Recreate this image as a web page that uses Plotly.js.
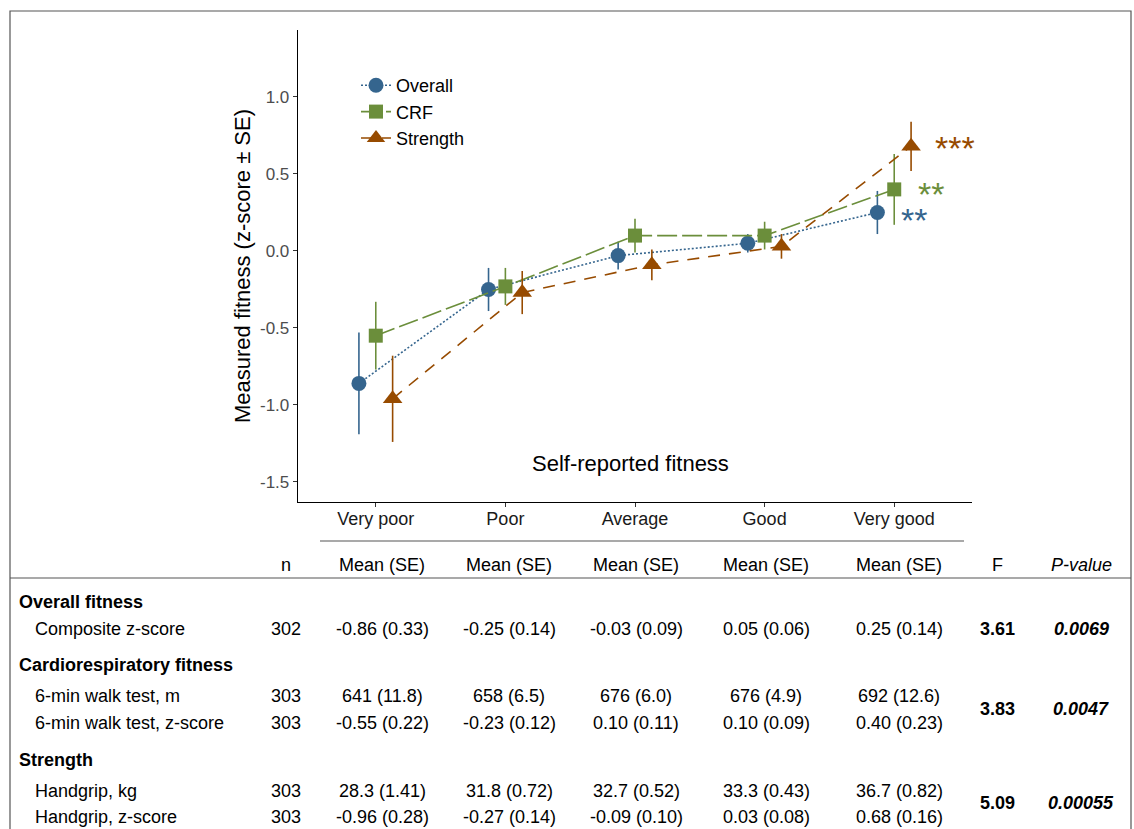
<!DOCTYPE html>
<html>
<head>
<meta charset="utf-8">
<script src="https://cdn.plot.ly/plotly-3.0.1.min.js"></script>
<style>html,body{margin:0;padding:0;background:#fff;}#chart{width:1134px;height:829px;}</style>
</head>
<body>
<div id="chart"></div>
<script>
// ---------------- data ----------------
const categories = ["Very poor", "Poor", "Average", "Good", "Very good"];
const seriesNames = ["Overall", "CRF", "Strength"];
const overallMean = [-0.86, -0.25, -0.03, 0.05, 0.25];
const overallSE   = [0.33, 0.14, 0.09, 0.06, 0.14];
const crfMean     = [-0.55, -0.23, 0.10, 0.10, 0.40];
const crfSE       = [0.22, 0.12, 0.11, 0.09, 0.23];
const strengthMean = [-0.96, -0.27, -0.09, 0.03, 0.68];
const strengthSE   = [0.28, 0.14, 0.10, 0.08, 0.16];
const walkMean = [641, 658, 676, 676, 692];
const walkSE   = [11.8, 6.5, 6.0, 4.9, 12.6];
const gripMean = [28.3, 31.8, 32.7, 33.3, 36.7];
const gripSE   = [1.41, 0.72, 0.52, 0.43, 0.82];
const rowN = [302, 303, 303, 303, 303];
const fValues = [3.61, 3.83, 5.09];
const pValues = ["0.0069", "0.0047", "0.00055"];
const significance = ["**", "**", "***"];
const yTicks = [-1.5, -1.0, -0.5, 0.0, 0.5, 1.0];

// ---------------- style ----------------
const colors = ["#35658E", "#6B8E3B", "#974B00"];
const symbols = ["circle", "square", "triangle-up"];
const msizes = [15, 14, 17];
const dashes = ["2px,2px", "20px,5px", "12px,9px"];
const dodge = [-0.13, 0, 0.13];
const starShiftY = [-8, -5, -2];
const FONT = "Liberation Sans, Arial, sans-serif";

const W = 1134, H = 829;
const L = 298, R = 972, T = 30, B = 502;
const xp = px => (px - L) / (R - L);
const yp = py => (B - py) / (B - T);

const means = [overallMean, crfMean, strengthMean];
const ses = [overallSE, crfSE, strengthSE];

const traces = means.map((m, s) => ({
  type: "scatter",
  mode: "lines+markers",
  name: seriesNames[s],
  x: categories.map((c, i) => i + dodge[s]),
  y: m,
  error_y: {type: "data", array: ses[s], visible: true, color: colors[s], thickness: 1.6, width: 0},
  line: {color: colors[s], width: 1.6, dash: dashes[s]},
  marker: {color: colors[s], symbol: symbols[s], size: msizes[s], line: {width: 0}},
  hoverinfo: "skip"
}));

const annotations = [];
// significance stars
means.forEach((m, s) => {
  annotations.push({
    x: (categories.length - 1) + dodge[s], y: m[m.length - 1], xref: "x", yref: "y",
    text: significance[s], showarrow: false, xanchor: "left", yanchor: "middle",
    xshift: 22, yshift: starShiftY[s],
    font: {family: FONT, size: 34, color: colors[s]}
  });
});
// x label inside plot
annotations.push({x: xp(630), y: yp(463), xref: "paper", yref: "paper", text: "Self-reported fitness",
  showarrow: false, xanchor: "center", yanchor: "middle", font: {family: FONT, size: 22, color: "#000"}});

// ---------------- table ----------------
const colX = [382, 509, 636, 766, 899];
const nX = 286, fX = 997, pX = 1081;
function txt(px, py, text, anchor, opts) {
  opts = opts || {};
  annotations.push({x: xp(px), y: yp(py), xref: "paper", yref: "paper", text: text, showarrow: false,
    xanchor: anchor, yanchor: "middle",
    font: {family: FONT, size: 18, color: "#000", weight: opts.bold ? "bold" : "normal", style: opts.italic ? "italic" : "normal"}});
}
// header
txt(nX, 565, "n", "center");
colX.forEach(x => txt(x, 565, "Mean (SE)", "center"));
txt(fX, 565, "F", "center");
txt(pX, 565, "P-value", "center", {italic: true});

const fmt = (m, s, dm, ds) => m.toFixed(dm) + " (" + s.toFixed(ds) + ")";
const rows = [
  {label: "Composite z-score", y: 629, n: rowN[0], cells: overallMean.map((m, i) => fmt(m, overallSE[i], 2, 2))},
  {label: "6-min walk test, m", y: 696, n: rowN[1], cells: walkMean.map((m, i) => fmt(m, walkSE[i], 0, 1))},
  {label: "6-min walk test, z-score", y: 723, n: rowN[2], cells: crfMean.map((m, i) => fmt(m, crfSE[i], 2, 2))},
  {label: "Handgrip, kg", y: 791, n: rowN[3], cells: gripMean.map((m, i) => fmt(m, gripSE[i], 1, 2))},
  {label: "Handgrip, z-score", y: 817, n: rowN[4], cells: strengthMean.map((m, i) => fmt(m, strengthSE[i], 2, 2))}
];
const groups = [{label: "Overall fitness", y: 602, statY: 629},
                {label: "Cardiorespiratory fitness", y: 665, statY: 709},
                {label: "Strength", y: 760, statY: 803}];
groups.forEach((g, k) => {
  txt(17, g.y, g.label, "left", {bold: true});
  txt(fX, g.statY, fValues[k].toFixed(2), "center", {bold: true});
  txt(pX, g.statY, pValues[k], "center", {bold: true, italic: true});
});
rows.forEach(r => {
  txt(33, r.y, r.label, "left");
  txt(nX, r.y, String(r.n), "center");
  r.cells.forEach((c, i) => txt(colX[i], r.y, c, "center"));
});

const shapes = [
  {type: "rect", xref: "paper", yref: "paper", x0: xp(10), x1: xp(1131), y0: yp(11), y1: yp(845),
   line: {color: "#555", width: 1.2}, fillcolor: "rgba(0,0,0,0)", layer: "above"},
  {type: "line", xref: "paper", yref: "paper", x0: xp(320), x1: xp(964), y0: yp(541), y1: yp(541), line: {color: "#555", width: 1.2}},
  {type: "line", xref: "paper", yref: "paper", x0: xp(10), x1: xp(1131), y0: yp(578), y1: yp(578), line: {color: "#555", width: 1.2}}
];

const layout = {
  width: W, height: H,
  margin: {l: L, r: W - R, t: T, b: H - B, pad: 0},
  paper_bgcolor: "#fff", plot_bgcolor: "#fff",
  font: {family: FONT, color: "#000"},
  showlegend: true,
  legend: {x: xp(356), y: yp(67), xanchor: "left", yanchor: "top", bgcolor: "rgba(0,0,0,0)",
    font: {family: FONT, size: 18, color: "#000"}, itemwidth: 30},
  xaxis: {range: [-0.6, 4.6], tickvals: categories.map((c, i) => i), ticktext: categories,
    showline: true, linecolor: "#000", linewidth: 1.3, showgrid: false, zeroline: false,
    ticks: "outside", ticklen: 4, tickcolor: "#333", tickwidth: 1, ticklabelstandoff: -4,
    tickfont: {family: FONT, size: 18, color: "#1A1A1A"}, fixedrange: true},
  yaxis: {range: [-1.63, 1.435], tickvals: yTicks, ticktext: yTicks.map(v => v.toFixed(1)),
    showline: true, linecolor: "#000", linewidth: 1.3, showgrid: false, zeroline: false,
    ticks: "outside", ticklen: 4, tickcolor: "#333", tickwidth: 1,
    tickfont: {family: FONT, size: 17, color: "#4D4D4D"},
    title: {text: "Measured fitness (z-score ± SE)", font: {family: FONT, size: 22, color: "#000"}, standoff: 3},
    automargin: false, fixedrange: true},
  annotations: annotations,
  shapes: shapes
};

Plotly.newPlot("chart", traces, layout, {displayModeBar: false, staticPlot: true});
</script>
</body>
</html>
